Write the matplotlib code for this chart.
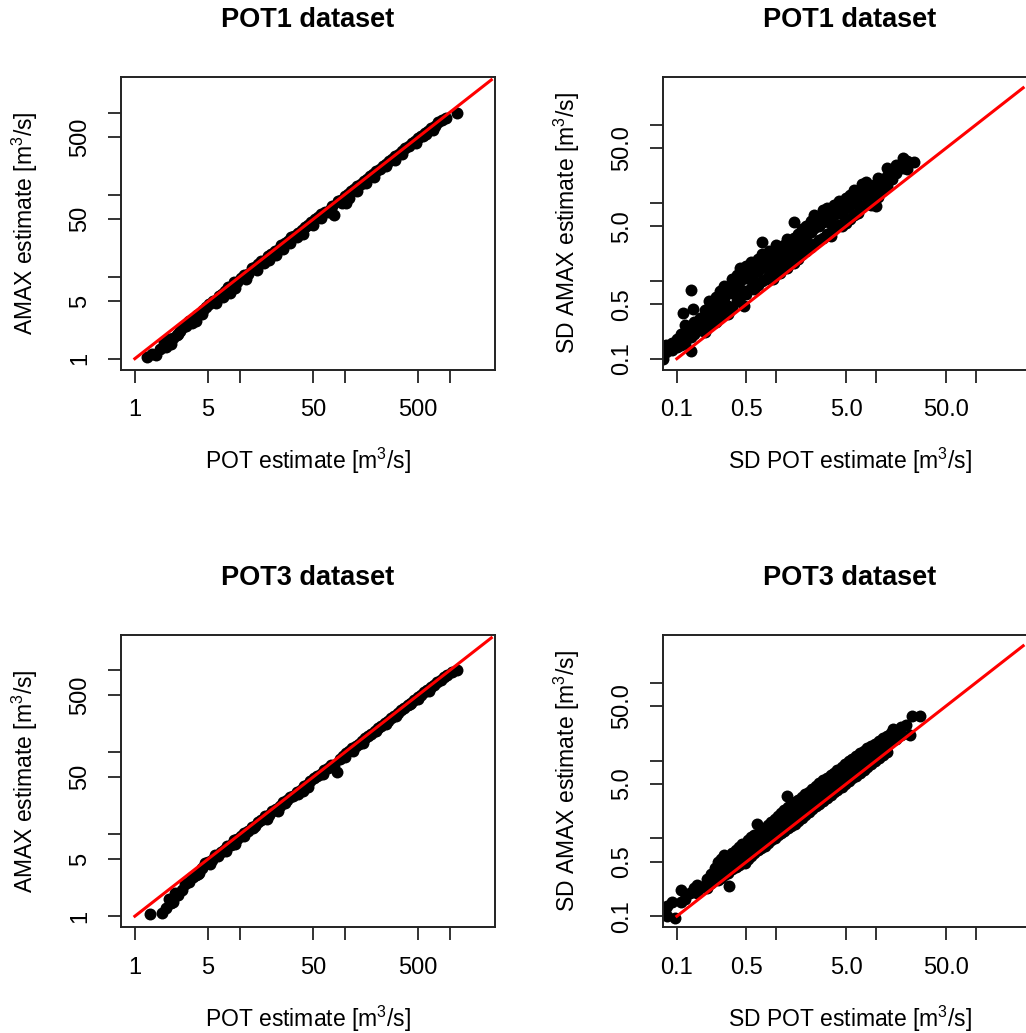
import numpy as np
import matplotlib
matplotlib.use("Agg")
import matplotlib.pyplot as plt

plt.rcParams['font.family'] = ['Liberation Sans', 'DejaVu Sans']
plt.rcParams['mathtext.fontset'] = 'custom'
plt.rcParams['mathtext.rm'] = 'Liberation Sans'
plt.rcParams['mathtext.it'] = 'Liberation Sans'

# ---- data ----
# POT1, AMAX vs POT estimate
pot1_x = [1.3, 1.45, 1.6, 1.75, 1.9, 2.0, 2.1, 2.3, 2.5, 2.7, 2.9, 3.1, 3.3, 3.5, 3.7, 3.9,
          4.2, 4.5, 4.8, 5.1, 5.5, 5.9, 6.3, 6.8, 7.3, 7.8, 8.3, 8.9, 9.5, 10.2, 11, 12, 13,
          14, 15, 16, 17, 18.5, 20, 21.5, 23, 25, 27, 29, 31, 33, 36, 39, 42, 45, 48, 52, 56,
          60, 65, 70, 75, 80, 86, 92, 100, 104, 107, 115, 123, 132, 142, 152, 163, 175, 188,
          200, 215, 230, 247, 265, 285, 305, 330, 355, 380, 410, 440, 470, 505, 540, 580, 620,
          670, 720, 780, 840, 935, 1170, 9, 17, 30, 60, 130, 250, 480, 560,
          2.2, 3.8, 6.0, 11.5, 22, 40, 72, 95, 160, 300, 600,
          2.6, 4.4, 7.0, 8.0, 14.5, 19, 26, 35, 50, 110, 190, 350, 700]
pot1_y = [1.05, 1.15, 1.1, 1.3, 1.6, 1.4, 1.75, 1.8, 1.95, 2.2, 2.4, 2.5, 2.9, 2.7, 3.1, 3.4,
          3.6, 3.9, 4.3, 4.6, 5.1, 5.0, 5.8, 6.2, 6.6, 7.5, 7.4, 8.6, 8.5, 9.6, 10.5, 10.8, 12.6,
          13.0, 14.2, 15.5, 15.3, 17.6, 19, 20.5, 21.0, 24.3, 25.5, 27.5, 30, 31, 34.5, 37, 40.5,
          42, 46.5, 50, 53, 58, 62, 61, 72, 56, 83, 87, 96, 78, 103, 110, 118, 127, 135, 147, 155,
          168, 180, 193, 205, 222, 236, 256, 272, 295, 315, 342, 365, 395, 425, 450, 490, 520,
          560, 600, 640, 690, 760, 800, 850, 1000, 7.2, 14.8, 26, 52, 112, 225, 430, 520,
          1.5, 2.9, 4.8, 9.3, 18.5, 33, 64, 80, 140, 265, 540,
          2.0, 3.5, 5.6, 6.3, 12.0, 15.8, 22, 30, 42, 92, 165, 310, 620]

# POT3, AMAX vs POT estimate
pot3_x = [1.4, 1.8, 2.0, 2.1, 2.2, 2.4, 2.6, 2.8, 3.0, 3.3, 3.5, 3.8, 4.1, 4.4, 4.7, 5.0,
          5.4, 5.8, 6.2, 6.6, 7.1, 7.6, 8.2, 8.8, 9.5, 10.2, 11, 12, 13, 14, 15, 16, 17.5, 19,
          20.5, 22, 24, 26, 28, 30, 32, 35, 38, 41, 44, 47, 51, 55, 59, 64, 69, 74, 84, 90, 96,
          103, 110, 118, 127, 136, 146, 157, 168, 180, 194, 208, 223, 240, 258, 277, 297, 320,
          345, 370, 400, 430, 460, 495, 530, 570, 610, 660, 710, 760, 820, 880, 950, 1050, 1170,
          3.6, 7.4, 13.5, 27, 45, 100, 200, 420, 2.3, 5.2, 9.0, 18, 36, 62, 150, 310, 640,
          4.0, 11, 23, 40, 80, 120, 250, 500]
pot3_y = [1.05, 1.1, 1.25, 1.6, 1.45, 1.9, 1.8, 2.1, 2.5, 2.6, 3.0, 3.2, 3.4, 3.9, 4.4, 4.6,
          4.9, 5.6, 5.4, 6.0, 6.5, 7.2, 7.4, 8.4, 8.7, 9.5, 10.5, 11.0, 12.2, 12.8, 14.2, 15.0,
          16.6, 17.4, 19.5, 20.6, 22.3, 24.8, 26, 28.5, 29.6, 33, 35, 39, 40.5, 45, 48, 52, 55,
          61, 64, 70, 57, 84, 90, 97, 103, 112, 118, 128, 137, 148, 157, 170, 182, 196, 208, 226,
          242, 262, 280, 302, 325, 350, 378, 405, 435, 468, 500, 540, 578, 625, 668, 720, 770,
          830, 880, 960, 1000, 3.0, 6.3, 11.8, 24, 38, 88, 182, 385, 1.5, 4.3, 7.6, 15.5, 31,
          54, 132, 280, 560, 3.3, 9.4, 19.5, 34, 70, 104, 222, 445]

# POT1, SD of AMAX vs SD of POT estimate
sd1_x = [0.073, 0.073, 0.078, 0.078, 0.085, 0.09, 0.09, 0.10, 0.10, 0.11, 0.11, 0.116,
         0.12, 0.12, 0.12, 0.14, 0.14, 0.14, 0.14, 0.146, 0.15, 0.15, 0.17, 0.17, 0.17,
         0.19, 0.19, 0.19, 0.21, 0.21, 0.21, 0.23, 0.23, 0.25, 0.25, 0.25, 0.27, 0.27, 0.27,
         0.30, 0.30, 0.30, 0.33, 0.33, 0.33, 0.36, 0.36, 0.36, 0.40, 0.40, 0.40, 0.43, 0.43,
         0.43, 0.47, 0.47, 0.47, 0.50, 0.50, 0.50, 0.55, 0.55, 0.55, 0.60, 0.60, 0.60, 0.66,
         0.66, 0.66, 0.71, 0.71, 0.71, 0.71, 0.78, 0.78, 0.78, 0.85, 0.85, 0.85, 0.93, 0.93,
         0.93, 0.99, 0.99, 0.99, 1.08, 1.08, 1.08, 1.18, 1.18, 1.18, 1.29, 1.29, 1.29, 1.37,
         1.37, 1.51, 1.51, 1.51, 1.51, 1.65, 1.65, 1.65, 1.8, 1.8, 1.8, 2.0, 2.0, 2.0, 2.2,
         2.2, 2.2, 2.4, 2.4, 2.4, 2.65, 2.65, 2.65, 2.9, 2.9, 2.9, 3.2, 3.2, 3.2, 3.5, 3.5,
         3.5, 3.8, 3.8, 3.8, 4.2, 4.2, 4.2, 4.6, 4.6, 4.6, 5.0, 5.0, 5.0, 5.5, 5.5, 5.5, 6.0,
         6.0, 6.0, 6.6, 6.6, 6.6, 7.2, 7.2, 7.2, 8.0, 8.0, 8.0, 8.8, 8.8, 8.8, 9.6, 9.6, 9.6,
         10.0, 10.5, 10.5, 10.5, 11.5, 11.5, 13, 13, 13, 14.5, 14.5, 16, 16, 18.7, 18.7, 20.5,
         20.5, 24.2]
sd1_y = [0.10, 0.13, 0.15, 0.12, 0.14, 0.16, 0.13, 0.18, 0.14, 0.21, 0.15, 0.39,
         0.22, 0.16, 0.27, 0.77, 0.127, 0.25, 0.19, 0.43, 0.30, 0.21, 0.33, 0.23, 0.27,
         0.42, 0.28, 0.22, 0.55, 0.35, 0.26, 0.48, 0.31, 0.62, 0.40, 0.30, 0.75, 0.52, 0.34,
         0.85, 0.60, 0.39, 0.80, 0.48, 0.37, 1.05, 0.70, 0.45, 1.2, 0.85, 0.55, 1.45, 1.0,
         0.62, 1.3, 0.47, 0.75, 1.55, 1.1, 0.68, 1.75, 1.25, 0.80, 1.65, 1.0, 0.78, 1.9,
         1.35, 0.88, 3.1, 2.2, 1.5, 1.0, 2.1, 1.6, 1.05, 2.4, 1.8, 1.2, 2.3, 1.5,
         1.05, 2.85, 2.0, 1.3, 2.6, 1.8, 1.25, 2.9, 2.1, 1.5, 3.4, 2.4, 1.45, 2.85,
         1.9, 5.6, 3.5, 2.3, 1.7, 4.0, 2.8, 1.9, 4.6, 3.2, 2.2, 5.0, 3.6, 2.4, 5.8,
         4.2, 2.7, 7.0, 4.8, 3.0, 6.5, 5.0, 3.3, 8.0, 5.6, 3.5, 8.5, 6.2, 4.0, 7.6, 5.3,
         3.8, 9.5, 7.0, 4.6, 10.5, 7.8, 5.2, 10.2, 7.2, 5.1, 11.5, 8.5, 5.5, 12.5, 9.5, 6.3, 14.5,
         10.5, 7.0, 13.5, 9.8, 7.5, 17.5, 13.0, 8.8, 18.5, 14.0, 9.8, 16.5, 12.0, 9.5, 17.0, 13.0, 10.5,
         9.0, 21, 15.5, 12, 19, 14, 28, 22, 16.5, 26, 20, 31, 24, 37.3, 28, 34,
         27, 33.6]

# POT3, SD of AMAX vs SD of POT estimate
sd3_x = [0.076, 0.079, 0.079, 0.089, 0.095, 0.11, 0.11, 0.121, 0.135, 0.147, 0.16, 0.16,
         0.18, 0.2, 0.2, 0.22, 0.22, 0.24, 0.24, 0.26, 0.26, 0.26, 0.28, 0.28, 0.28, 0.30,
         0.30, 0.30, 0.337, 0.33, 0.33, 0.33, 0.36, 0.36, 0.36, 0.39, 0.39, 0.39, 0.42, 0.42,
         0.42, 0.45, 0.45, 0.45, 0.48, 0.48, 0.48, 0.52, 0.52, 0.52, 0.56, 0.56, 0.56, 0.60,
         0.60, 0.60, 0.635, 0.65, 0.65, 0.65, 0.70, 0.70, 0.70, 0.76, 0.76, 0.76, 0.82, 0.82,
         0.82, 0.89, 0.89, 0.89, 0.96, 0.96, 0.96, 1.04, 1.04, 1.04, 1.12, 1.12, 1.12, 1.2,
         1.2, 1.2, 1.27, 1.3, 1.3, 1.3, 1.4, 1.4, 1.4, 1.52, 1.52, 1.52, 1.65, 1.65, 1.65, 1.8,
         1.8, 1.8, 1.95, 1.95, 1.95, 2.1, 2.1, 2.1, 2.3, 2.3, 2.3, 2.5, 2.5, 2.5, 2.7, 2.7, 2.7,
         2.95, 2.95, 2.95, 3.2, 3.2, 3.2, 3.5, 3.5, 3.5, 3.8, 3.8, 3.8, 4.1, 4.1, 4.1, 4.5,
         4.5, 4.5, 4.9, 4.9, 4.9, 5.3, 5.3, 5.3, 5.8, 5.8, 5.8, 6.3, 6.3, 6.3, 6.9, 6.9, 6.9,
         7.5, 7.5, 7.5, 8.2, 8.2, 8.2, 9.0, 9.0, 9.0, 9.8, 9.8, 9.8, 10.7, 10.7, 10.7, 11.7,
         11.7, 11.7, 12.8, 12.8, 12.8, 14.0, 14.0, 14.9, 16, 16, 18, 18, 20, 21.9, 22.9, 27.7]
sd3_y = [0.12, 0.137, 0.10, 0.15, 0.095, 0.22, 0.15, 0.164, 0.20, 0.232, 0.25, 0.20,
         0.24, 0.30, 0.23, 0.35, 0.27, 0.42, 0.30, 0.50, 0.36, 0.29, 0.55, 0.40, 0.31, 0.62,
         0.46, 0.34, 0.243, 0.58, 0.42, 0.36, 0.65, 0.48, 0.40, 0.70, 0.55, 0.43, 0.78, 0.58,
         0.46, 0.85, 0.65, 0.50, 0.80, 0.60, 0.48, 0.95, 0.75, 0.55, 1.05, 0.80, 0.60, 1.10,
         0.85, 0.65, 1.52, 1.15, 0.90, 0.70, 1.25, 0.98, 0.75, 1.35, 1.05, 0.80, 1.50, 1.15,
         0.88, 1.65, 1.25, 0.95, 1.80, 1.40, 1.02, 1.95, 1.50, 1.10, 2.10, 1.60, 1.18, 2.3,
         1.75, 1.25, 3.5, 2.5, 1.9, 1.35, 2.7, 2.0, 1.45, 2.9, 2.2, 1.55, 3.1, 2.4, 1.7, 3.4,
         2.6, 1.85, 3.7, 2.8, 2.0, 4.0, 3.0, 2.2, 4.3, 3.3, 2.4, 4.7, 3.6, 2.6, 5.2, 3.9, 2.8,
         5.6, 4.2, 3.0, 6.0, 4.6, 3.3, 6.5, 5.0, 3.6, 7.0, 5.4, 3.9, 7.6, 5.8, 4.2, 8.3,
         6.3, 4.6, 9.0, 6.8, 5.0, 9.8, 7.4, 5.4, 10.5, 8.0, 5.9, 11.5, 8.7, 6.4, 12.5, 9.5, 7.0,
         13.5, 10.3, 7.6, 14.5, 11.2, 8.3, 15.5, 12.0, 9.0, 16.5, 13.0, 9.8, 18.0, 14.0, 10.8, 19.5,
         15.0, 11.8, 21.0, 16.5, 13.0, 22.5, 18.0, 25.5, 24, 19, 27, 21.5, 29, 21.3, 37.7, 37.7]

# 1:1 reference lines and axis setup
flow_line = [1, 2500]
sd_line = [0.1, 300]
flow_lim = (0.738, 2711)
sd_lim = (0.0726, 413)
flow_ticks = [1, 5, 10, 50, 100, 500, 1000]
flow_labels = ['1', '5', '', '50', '', '500', '']
sd_ticks = [0.1, 0.5, 1, 5, 10, 50, 100]
sd_labels = ['0.1', '0.5', '', '5.0', '', '50.0', '']

titles = ['POT1 dataset', 'POT1 dataset', 'POT3 dataset', 'POT3 dataset']
xlabels = ['POT estimate [m$^3$/s]', 'SD POT estimate [m$^3$/s]'] * 2
ylabels = ['AMAX estimate [m$^3$/s]', 'SD AMAX estimate [m$^3$/s]'] * 2

fig = plt.figure(figsize=(10.26, 10.33), dpi=100)
W, H = 1026.0, 1033.0
# axes boxes in pixels: left, top, right, bottom
boxes = [(121, 77, 495, 369.5), (663, 77, 1037, 369.5),
         (121, 635, 495, 927), (663, 635, 1037, 927)]

panels = [(pot1_x, pot1_y, 'flow'), (sd1_x, sd1_y, 'sd'),
          (pot3_x, pot3_y, 'flow'), (sd3_x, sd3_y, 'sd')]

for i, (px, py, kind) in enumerate(panels):
    l, t, r, b = boxes[i]
    ax = fig.add_axes([l / W, 1 - b / H, (r - l) / W, (b - t) / H])
    ax.set_xscale('log')
    ax.set_yscale('log')
    ax.plot(px, py, 'o', color='black', ms=8.6, mew=0, zorder=2)
    if kind == 'flow':
        ax.plot(flow_line, flow_line, color='red', lw=2.2, zorder=3)
        lim, ticks, labels = flow_lim, flow_ticks, flow_labels
    else:
        ax.plot(sd_line, sd_line, color='red', lw=2.2, zorder=3)
        lim, ticks, labels = sd_lim, sd_ticks, sd_labels
    ax.set_xlim(lim)
    ax.set_ylim(lim)
    ax.minorticks_off()
    ax.set_xticks(ticks)
    ax.set_xticklabels(labels)
    ax.set_yticks(ticks)
    ax.set_yticklabels(labels, rotation=90, va='center')
    ax.tick_params(length=9.4, width=1.4, labelsize=17, color='#333333')
    ax.tick_params(axis='x', pad=12)
    ax.tick_params(axis='y', pad=12)
    for s in ax.spines.values():
        s.set_linewidth(1.4)
        s.set_color('#222222')
    ax.set_xlabel(xlabels[i], fontsize=16.5, labelpad=18)
    ax.set_ylabel(ylabels[i], fontsize=16.5, labelpad=21)
    ax.set_title(titles[i], fontsize=19.5, fontweight='bold', pad=36)

fig.savefig('out.png', dpi=100)
